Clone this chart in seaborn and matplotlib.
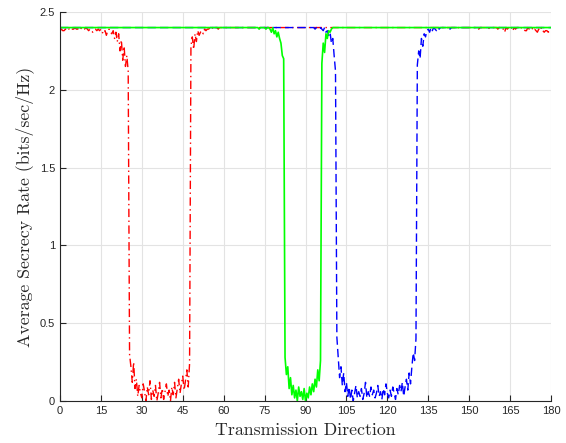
import numpy as np
import pandas as pd
import seaborn as sns
import matplotlib.pyplot as plt
from matplotlib.ticker import FormatStrFormatter

# direccion de transmision, muestreo cada 0.5 grados
angles = np.arange(0, 180.5, 0.5)

red_rate = [
    2.38, 2.39, 2.38, 2.38, 2.39, 2.38, 2.39, 2.39, 2.38, 2.39, 2.39, 2.40, 2.39, 2.39, 2.40, 2.39, 2.40, 2.39, 2.39, 2.40,
    2.39, 2.38, 2.39, 2.38, 2.37, 2.38, 2.39, 2.38, 2.39, 2.38, 2.39, 2.37, 2.36, 2.38, 2.35, 2.38, 2.39, 2.37, 2.36, 2.38,
    2.33, 2.37, 2.31, 2.36, 2.25, 2.32, 2.19, 2.28, 2.15, 2.22, 2.12, 0.30, 0.22, 0.12, 0.25, 0.08, 0.14, 0.03, 0.10, 0.05,
    0.02, 0.11, 0.06, 0.00, 0.09, 0.04, 0.13, 0.01, 0.07, 0.03, 0.10, 0.00, 0.05, 0.12, 0.02, 0.08, 0.01, 0.06, 0.11, 0.03,
    0.07, 0.00, 0.09, 0.04, 0.12, 0.02, 0.08, 0.14, 0.05, 0.11, 0.16, 0.07, 0.13, 0.20, 0.09, 0.24, 2.28, 2.34, 2.26, 2.36,
    2.31, 2.38, 2.35, 2.37, 2.38, 2.36, 2.39, 2.38, 2.39, 2.39, 2.40, 2.39, 2.40, 2.39, 2.40, 2.40, 2.39, 2.40, 2.40, 2.40,
    2.40, 2.40, 2.40, 2.40, 2.40, 2.40, 2.40, 2.40, 2.40, 2.40, 2.40, 2.40, 2.40, 2.40, 2.40, 2.40, 2.40, 2.40, 2.40, 2.40,
    2.40, 2.40, 2.40, 2.40, 2.40, 2.40, 2.40, 2.40, 2.40, 2.40, 2.40, 2.40, 2.40, 2.40, 2.40, 2.40, 2.40, 2.40, 2.40, 2.40,
    2.40, 2.40, 2.40, 2.40, 2.40, 2.40, 2.40, 2.40, 2.40, 2.40, 2.40, 2.40, 2.40, 2.40, 2.40, 2.40, 2.40, 2.40, 2.40, 2.40,
    2.40, 2.40, 2.40, 2.40, 2.40, 2.40, 2.40, 2.40, 2.40, 2.40, 2.40, 2.40, 2.40, 2.40, 2.40, 2.40, 2.40, 2.40, 2.40, 2.40,
    2.40, 2.40, 2.40, 2.40, 2.40, 2.40, 2.40, 2.40, 2.40, 2.40, 2.40, 2.40, 2.40, 2.40, 2.40, 2.40, 2.40, 2.40, 2.40, 2.40,
    2.40, 2.40, 2.40, 2.40, 2.40, 2.40, 2.40, 2.40, 2.40, 2.40, 2.40, 2.40, 2.40, 2.40, 2.40, 2.40, 2.40, 2.40, 2.40, 2.40,
    2.40, 2.40, 2.40, 2.40, 2.40, 2.40, 2.40, 2.40, 2.40, 2.40, 2.40, 2.40, 2.40, 2.40, 2.40, 2.40, 2.40, 2.40, 2.40, 2.40,
    2.40, 2.40, 2.40, 2.40, 2.40, 2.40, 2.40, 2.40, 2.40, 2.40, 2.40, 2.40, 2.40, 2.40, 2.40, 2.40, 2.40, 2.40, 2.40, 2.40,
    2.40, 2.40, 2.40, 2.40, 2.40, 2.40, 2.40, 2.40, 2.40, 2.40, 2.40, 2.39, 2.40, 2.40, 2.40, 2.40, 2.40, 2.40, 2.40, 2.40,
    2.40, 2.40, 2.40, 2.40, 2.40, 2.40, 2.40, 2.39, 2.40, 2.40, 2.40, 2.40, 2.40, 2.40, 2.39, 2.40, 2.40, 2.40, 2.40, 2.40,
    2.40, 2.39, 2.40, 2.40, 2.40, 2.39, 2.37, 2.40, 2.39, 2.40, 2.39, 2.40, 2.38, 2.40, 2.39, 2.40, 2.40, 2.39, 2.40, 2.39,
    2.39, 2.38, 2.38, 2.40, 2.39, 2.39, 2.40, 2.38, 2.39, 2.38, 2.37, 2.39, 2.38, 2.40, 2.38, 2.37, 2.38, 2.38, 2.37, 2.38,
    2.38,
]

green_rate = [
    2.40, 2.40, 2.40, 2.40, 2.40, 2.40, 2.40, 2.40, 2.40, 2.40, 2.40, 2.40, 2.40, 2.40, 2.40, 2.40, 2.40, 2.40, 2.40, 2.40,
    2.40, 2.40, 2.40, 2.40, 2.40, 2.40, 2.40, 2.40, 2.40, 2.40, 2.40, 2.40, 2.40, 2.40, 2.40, 2.40, 2.40, 2.40, 2.40, 2.40,
    2.40, 2.40, 2.40, 2.40, 2.40, 2.40, 2.40, 2.40, 2.40, 2.40, 2.40, 2.40, 2.40, 2.40, 2.40, 2.40, 2.40, 2.40, 2.40, 2.40,
    2.40, 2.40, 2.40, 2.40, 2.40, 2.40, 2.40, 2.40, 2.40, 2.40, 2.40, 2.40, 2.40, 2.40, 2.40, 2.40, 2.40, 2.40, 2.40, 2.40,
    2.40, 2.40, 2.40, 2.40, 2.40, 2.40, 2.40, 2.40, 2.40, 2.40, 2.40, 2.40, 2.40, 2.40, 2.40, 2.40, 2.40, 2.40, 2.40, 2.40,
    2.40, 2.40, 2.40, 2.40, 2.40, 2.40, 2.40, 2.40, 2.40, 2.40, 2.40, 2.40, 2.40, 2.40, 2.40, 2.40, 2.40, 2.40, 2.40, 2.40,
    2.40, 2.40, 2.40, 2.40, 2.40, 2.40, 2.40, 2.40, 2.40, 2.40, 2.40, 2.40, 2.40, 2.40, 2.40, 2.40, 2.40, 2.40, 2.40, 2.40,
    2.40, 2.40, 2.40, 2.40, 2.40, 2.40, 2.39, 2.40, 2.40, 2.40, 2.40, 2.39, 2.40, 2.40, 2.39, 2.37, 2.40, 2.36, 2.38, 2.34,
    2.37, 2.33, 2.30, 2.22, 2.20, 0.28, 0.17, 0.22, 0.08, 0.15, 0.04, 0.10, 0.02, 0.07, 0.00, 0.09, 0.03, 0.06, 0.01, 0.08,
    0.00, 0.05, 0.02, 0.09, 0.04, 0.11, 0.06, 0.14, 0.09, 0.20, 0.13, 0.26, 2.17, 2.30, 2.24, 2.36, 2.33, 2.38, 2.37, 2.39,
    2.40, 2.40, 2.40, 2.40, 2.40, 2.40, 2.40, 2.40, 2.40, 2.40, 2.40, 2.40, 2.40, 2.40, 2.40, 2.40, 2.40, 2.40, 2.40, 2.40,
    2.40, 2.40, 2.40, 2.40, 2.40, 2.40, 2.40, 2.40, 2.40, 2.40, 2.40, 2.40, 2.40, 2.40, 2.40, 2.40, 2.40, 2.40, 2.40, 2.40,
    2.40, 2.40, 2.40, 2.40, 2.40, 2.40, 2.40, 2.40, 2.40, 2.40, 2.40, 2.40, 2.40, 2.40, 2.40, 2.40, 2.40, 2.40, 2.40, 2.40,
    2.40, 2.40, 2.40, 2.40, 2.40, 2.40, 2.40, 2.40, 2.40, 2.40, 2.40, 2.40, 2.40, 2.40, 2.40, 2.40, 2.40, 2.40, 2.40, 2.40,
    2.40, 2.40, 2.40, 2.40, 2.40, 2.40, 2.40, 2.40, 2.40, 2.40, 2.40, 2.40, 2.40, 2.40, 2.40, 2.40, 2.40, 2.40, 2.40, 2.40,
    2.40, 2.40, 2.40, 2.40, 2.40, 2.40, 2.40, 2.40, 2.40, 2.40, 2.40, 2.40, 2.40, 2.40, 2.40, 2.40, 2.40, 2.40, 2.40, 2.40,
    2.40, 2.40, 2.40, 2.40, 2.40, 2.40, 2.40, 2.40, 2.40, 2.40, 2.40, 2.40, 2.40, 2.40, 2.40, 2.40, 2.40, 2.40, 2.40, 2.40,
    2.40, 2.40, 2.40, 2.40, 2.40, 2.40, 2.40, 2.40, 2.40, 2.40, 2.40, 2.40, 2.40, 2.40, 2.40, 2.40, 2.40, 2.40, 2.40, 2.40,
    2.40,
]

blue_rate = [
    2.40, 2.40, 2.40, 2.40, 2.40, 2.40, 2.40, 2.40, 2.40, 2.40, 2.40, 2.40, 2.40, 2.40, 2.40, 2.40, 2.40, 2.40, 2.40, 2.40,
    2.40, 2.40, 2.40, 2.40, 2.40, 2.40, 2.40, 2.40, 2.40, 2.40, 2.40, 2.40, 2.40, 2.40, 2.40, 2.40, 2.40, 2.40, 2.40, 2.40,
    2.40, 2.40, 2.40, 2.40, 2.40, 2.40, 2.40, 2.40, 2.40, 2.40, 2.40, 2.40, 2.40, 2.40, 2.40, 2.40, 2.40, 2.40, 2.40, 2.40,
    2.40, 2.40, 2.40, 2.40, 2.40, 2.40, 2.40, 2.40, 2.40, 2.40, 2.40, 2.40, 2.40, 2.40, 2.40, 2.40, 2.40, 2.40, 2.40, 2.40,
    2.40, 2.40, 2.40, 2.40, 2.40, 2.40, 2.40, 2.40, 2.40, 2.40, 2.40, 2.40, 2.40, 2.40, 2.40, 2.40, 2.40, 2.40, 2.40, 2.40,
    2.40, 2.40, 2.40, 2.40, 2.40, 2.40, 2.40, 2.40, 2.40, 2.40, 2.40, 2.40, 2.40, 2.40, 2.40, 2.40, 2.40, 2.40, 2.40, 2.40,
    2.40, 2.40, 2.40, 2.40, 2.40, 2.40, 2.40, 2.40, 2.40, 2.40, 2.40, 2.40, 2.40, 2.40, 2.40, 2.40, 2.40, 2.40, 2.40, 2.40,
    2.40, 2.40, 2.40, 2.40, 2.40, 2.40, 2.40, 2.40, 2.40, 2.40, 2.40, 2.40, 2.40, 2.40, 2.40, 2.40, 2.40, 2.40, 2.40, 2.40,
    2.40, 2.40, 2.40, 2.40, 2.40, 2.40, 2.40, 2.40, 2.40, 2.40, 2.40, 2.40, 2.40, 2.40, 2.40, 2.40, 2.40, 2.40, 2.40, 2.40,
    2.40, 2.40, 2.40, 2.40, 2.40, 2.40, 2.40, 2.39, 2.40, 2.40, 2.39, 2.40, 2.39, 2.38, 2.40, 2.37, 2.38, 2.35, 2.37, 2.30,
    2.33, 2.22, 2.12, 0.41, 0.28, 0.15, 0.22, 0.10, 0.18, 0.06, 0.12, 0.03, 0.09, 0.01, 0.07, 0.00, 0.05, 0.10, 0.02, 0.06,
    0.03, 0.08, 0.01, 0.05, 0.12, 0.02, 0.06, 0.03, 0.09, 0.04, 0.07, 0.02, 0.05, 0.10, 0.03, 0.06, 0.01, 0.08, 0.04, 0.11,
    0.05, 0.02, 0.07, 0.03, 0.09, 0.05, 0.01, 0.08, 0.04, 0.10, 0.06, 0.12, 0.03, 0.09, 0.14, 0.07, 0.18, 0.11, 0.22, 0.31,
    0.26, 0.40, 2.16, 2.25, 2.20, 2.33, 2.28, 2.36, 2.34, 2.38, 2.39, 2.37, 2.40, 2.38, 2.40, 2.39, 2.38, 2.40, 2.39, 2.40,
    2.40, 2.40, 2.40, 2.40, 2.40, 2.40, 2.39, 2.40, 2.40, 2.40, 2.40, 2.40, 2.40, 2.40, 2.40, 2.40, 2.40, 2.40, 2.40, 2.40,
    2.40, 2.40, 2.40, 2.40, 2.40, 2.40, 2.40, 2.40, 2.40, 2.40, 2.40, 2.40, 2.40, 2.40, 2.40, 2.40, 2.40, 2.40, 2.40, 2.40,
    2.40, 2.40, 2.40, 2.40, 2.40, 2.40, 2.40, 2.40, 2.40, 2.40, 2.40, 2.40, 2.40, 2.40, 2.40, 2.40, 2.40, 2.40, 2.40, 2.40,
    2.40, 2.40, 2.40, 2.40, 2.40, 2.40, 2.40, 2.40, 2.40, 2.40, 2.40, 2.40, 2.40, 2.40, 2.40, 2.40, 2.40, 2.40, 2.40, 2.40,
    2.40,
]

x_ticks = [0, 15, 30, 45, 60, 75, 90, 105, 120, 135, 150, 165, 180]
y_ticks = [0, 0.5, 1, 1.5, 2, 2.5]

df = pd.DataFrame({'angle': angles, 'red': red_rate, 'green': green_rate, 'blue': blue_rate})

sns.set_style('white')
plt.rcParams['font.family'] = ['Liberation Sans', 'DejaVu Sans']

fig = plt.figure(figsize=(5.66, 4.43), dpi=100)
ax = fig.add_axes([60 / 566, 1 - 401 / 443, 491 / 566, 389 / 443])

# orden: rojo, azul, verde (verde queda arriba)
sns.lineplot(data=df, x='angle', y='red', color='#ff0000', linewidth=1.0, estimator=None, ax=ax)
sns.lineplot(data=df, x='angle', y='blue', color='#0000ff', linewidth=1.0, estimator=None, ax=ax)
sns.lineplot(data=df, x='angle', y='green', color='#00ff00', linewidth=1.2, estimator=None, ax=ax)
ax.lines[0].set_dashes([6, 2.5, 1, 2.5])
ax.lines[1].set_dashes([6, 3])

ax.set_xlim(0, 180)
ax.set_ylim(0, 2.5)
ax.set_xticks(x_ticks)
ax.set_yticks(y_ticks)
ax.yaxis.set_major_formatter(FormatStrFormatter('%g'))
ax.grid(True, color='#e3e3e3', linewidth=0.8)
ax.set_axisbelow(True)

for side in ['top', 'right']:
    ax.spines[side].set_visible(False)
for side in ['left', 'bottom']:
    ax.spines[side].set_color('#262626')
    ax.spines[side].set_linewidth(0.8)
ax.tick_params(direction='in', length=4, width=0.8, color='#262626',
               labelsize=8, labelcolor='#262626', left=True, bottom=True)

ax.set_xlabel('Transmission Direction', fontfamily='cmr10', fontsize=12.8, color='#262626', labelpad=5)
ax.set_ylabel('Average Secrecy Rate (bits/sec/Hz)', fontfamily='cmr10', fontsize=12.8, color='#262626', labelpad=4)

fig.savefig('out.png', dpi=100)
